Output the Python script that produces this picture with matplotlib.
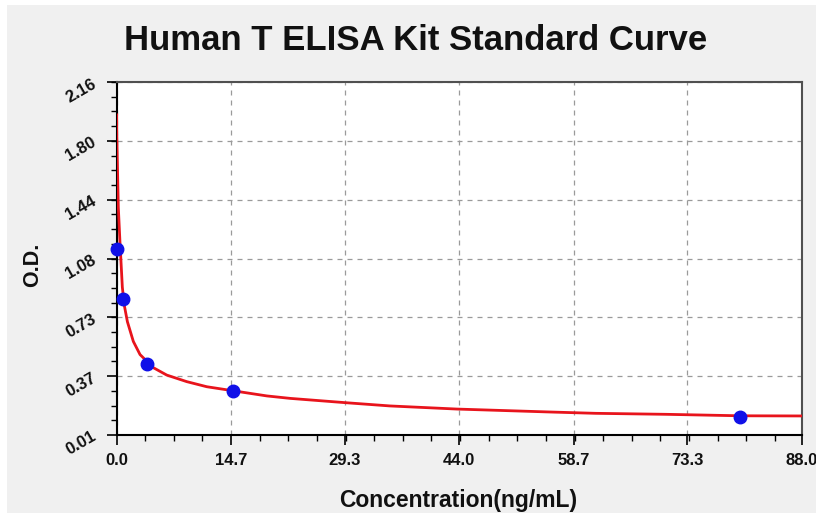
import matplotlib.pyplot as plt
from matplotlib.patches import Rectangle
from matplotlib.ticker import AutoMinorLocator
import numpy as np

plt.rcParams['font.family'] = ['Liberation Sans', 'DejaVu Sans']

# standard points
conc = [0.0, 0.8, 3.9, 14.9, 80.0]
od = [1.14, 0.84, 0.44, 0.28, 0.12]

# fitted curve
curve_x = [0.02, 0.03, 0.23, 0.45, 0.75, 1.0, 1.4, 2.16, 3.02, 4.73, 6.45,
           9.02, 11.59, 14.88, 19.3, 22.3, 29.35, 35.1, 43.7, 55.7, 61.5,
           70.5, 80.1, 88.0]
curve_y = [1.96, 1.85, 1.40, 1.18, 0.91, 0.80, 0.70, 0.58, 0.50, 0.42, 0.375,
           0.335, 0.304, 0.280, 0.248, 0.233, 0.207, 0.187, 0.168, 0.150, 0.142,
           0.136, 0.127, 0.126]

x_ticks = [0.0, 14.7, 29.3, 44.0, 58.7, 73.3, 88.0]
x_labels = ['0.0', '14.7', '29.3', '44.0', '58.7', '73.3', '88.0']
y_ticks = [0.01, 0.3683, 0.7267, 1.085, 1.4433, 1.8017, 2.16]
y_labels = ['0.01', '0.37', '0.73', '1.08', '1.44', '1.80', '2.16']

fig = plt.figure(figsize=(8.16, 5.13), dpi=100, facecolor='white')
bg = Rectangle((7 / 816, 0), 1, 508 / 513, transform=fig.transFigure,
               facecolor='#f0f0f0', edgecolor='none', zorder=-10)
fig.add_artist(bg)

ax = fig.add_axes([116.5 / 816, 1 - 435 / 513, (802 - 116.5) / 816, (435 - 82) / 513])
ax.set_zorder(5)
ax.set_facecolor('white')

ax.plot(curve_x, curve_y, color='#e8141c', lw=2.0, zorder=3)
ax.plot(conc, od, 'o', color='#1010e8', ms=9, zorder=4, clip_on=False)

ax.set_xlim(0, 88)
ax.set_ylim(0.01, 2.16)
ax.set_xticks(x_ticks)
ax.set_xticklabels(x_labels)
ax.set_yticks(y_ticks)
ax.set_yticklabels(y_labels, rotation=30)
ax.xaxis.set_minor_locator(AutoMinorLocator(4))
ax.yaxis.set_minor_locator(AutoMinorLocator(4))
ax.tick_params(which='major', length=7, width=1.2, labelsize=12, pad=6)
ax.tick_params(which='minor', length=4, width=1.0)
for lab in ax.get_xticklabels() + ax.get_yticklabels():
    lab.set_fontweight('bold')
    lab.set_color('#111111')

ax.grid(True, which='major', ls=(0, (4, 4)), color='#9a9a9a', lw=0.9)
for side in ['left', 'bottom']:
    ax.spines[side].set_linewidth(1.5)
    ax.spines[side].set_color('black')
for side in ['top', 'right']:
    ax.spines[side].set_linewidth(1.5)
    ax.spines[side].set_color('#505050')

fig.text(416 / 816, 1 - 40 / 513, 'Human T ELISA Kit Standard Curve', ha='center',
         va='center', fontsize=25, fontweight='bold', color='#111111')
fig.text(458 / 816, 1 - 500 / 513, 'Concentration(ng/mL)', ha='center', va='center',
         fontsize=16.5, fontweight='bold', color='#111111')
fig.text(33 / 816, 1 - 265 / 513, 'O.D.', ha='center', va='center', rotation=90,
         fontsize=15.5, fontweight='bold', color='#111111')

fig.savefig('out.png', dpi=100, facecolor=fig.get_facecolor())
